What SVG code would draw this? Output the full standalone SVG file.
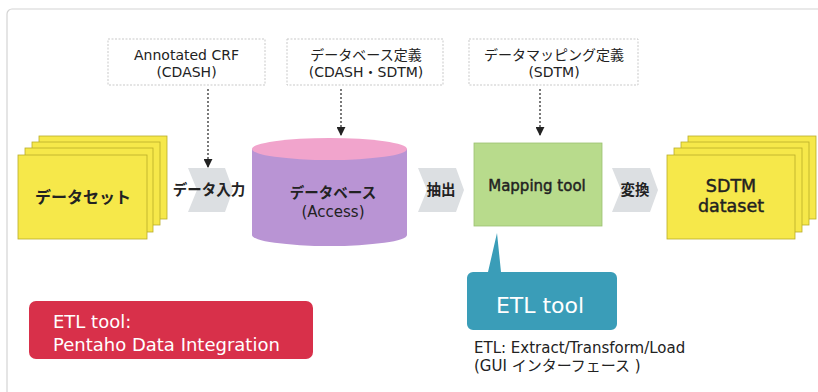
<svg xmlns="http://www.w3.org/2000/svg" width="818" height="392" viewBox="0 0 818 392">
<defs>
<style>
.lat{font-family:"DejaVu Sans","Noto Sans CJK JP",sans-serif;}
.jp{font-family:"Noto Sans CJK JP","DejaVu Sans",sans-serif;}
.note{fill:#fff;stroke:#c9c9c9;stroke-width:1;stroke-dasharray:2 1.5;}
.sheet{fill:#f6e84a;stroke:#b9ad2a;stroke-width:0.8;}
.chev{fill:#dcdfe2;}
.dot{stroke:#222;stroke-width:1.2;stroke-dasharray:2 2;fill:none;}
.t{fill:#222;}
.med{stroke:#222;stroke-width:0.45;}
</style>
<marker id="ah" viewBox="0 0 10 10" refX="9" refY="5" markerWidth="9" markerHeight="9" markerUnits="userSpaceOnUse" orient="auto">
<path d="M0,0 L10,5 L0,10 z" fill="#222"/>
</marker>
</defs>
<rect x="0" y="0" width="818" height="392" fill="#fff"/>
<rect x="7" y="9" width="830" height="410" rx="5" fill="none" stroke="#d4d4d4" stroke-width="1.2"/>

<g id="note-crf">
<rect class="note" x="108" y="39" width="157" height="46"/>
<text class="lat t" x="186.5" y="60" font-size="14" text-anchor="middle">Annotated CRF</text>
<text class="lat t" x="186.5" y="77" font-size="14" text-anchor="middle">(CDASH)</text>
</g>
<g id="note-db">
<rect class="note" x="287" y="39" width="156" height="46"/>
<text class="jp t" x="366" y="60" font-size="14" text-anchor="middle">データベース定義</text>
<text class="lat t" x="366" y="77" font-size="14" text-anchor="middle">(CDASH・SDTM)</text>
</g>
<g id="note-map">
<rect class="note" x="469" y="39" width="169" height="46"/>
<text class="jp t" x="554" y="60" font-size="14" text-anchor="middle">データマッピング定義</text>
<text class="lat t" x="554" y="77" font-size="14" text-anchor="middle">(SDTM)</text>
</g>

<g id="connectors">
<line class="dot" x1="208" y1="89" x2="208" y2="167" marker-end="url(#ah)"/>
<line class="dot" x1="341" y1="89" x2="341" y2="135" marker-end="url(#ah)"/>
<line class="dot" x1="540" y1="89" x2="540" y2="135" marker-end="url(#ah)"/>
<path class="chev" d="M188,168 L225,168 L233,190 L225,212 L188,212 L197,190 Z"/>
<path class="chev" d="M418,168 L456,168 L464,190 L456,212 L418,212 L427,190 Z"/>
<path class="chev" d="M612,168 L650,168 L658,190 L650,212 L612,212 L621,190 Z"/>
<text class="jp t" x="209" y="195" font-size="14.5" font-weight="bold" text-anchor="middle">データ入力</text>
<text class="jp t" x="441" y="195" font-size="14.5" font-weight="bold" text-anchor="middle">抽出</text>
<text class="jp t" x="635" y="195" font-size="14.5" font-weight="bold" text-anchor="middle">変換</text>
</g>

<g id="dataset">
<rect class="sheet" x="39" y="136" width="128" height="83"/>
<rect class="sheet" x="32" y="142" width="128" height="83"/>
<rect class="sheet" x="25" y="148" width="128" height="84"/>
<rect class="sheet" x="18" y="155" width="129" height="84"/>
<text class="jp t" x="83" y="203" font-size="16" font-weight="bold" text-anchor="middle">データセット</text>
</g>

<g id="database">
<path d="M252,149 L252,235 A77.5,11 0 0 0 407,235 L407,149 Z" fill="#b994d4"/>
<ellipse cx="329.5" cy="149" rx="77.5" ry="11" fill="#f1a4cc"/>
<text class="jp t" x="333" y="198" font-size="14.5" font-weight="bold" text-anchor="middle">データベース</text>
<text class="lat t" x="333" y="217" font-size="15" text-anchor="middle">(Access)</text>
</g>

<g id="mapping">
<rect x="474" y="143" width="128" height="83" fill="#b8db8c" stroke="#9cc070" stroke-width="0.8"/>
<text class="lat t med" x="537" y="191" font-size="15" text-anchor="middle">Mapping tool</text>
</g>

<g id="sdtm">
<rect class="sheet" x="688" y="136" width="128" height="83"/>
<rect class="sheet" x="681" y="142" width="128" height="83"/>
<rect class="sheet" x="674" y="148" width="128" height="84"/>
<rect class="sheet" x="667" y="155" width="128" height="84"/>
<text class="lat t med" x="731" y="192" font-size="17.5" text-anchor="middle">SDTM</text>
<text class="lat t med" x="731" y="212" font-size="17.5" text-anchor="middle">dataset</text>
</g>

<g id="etl-callout">
<path d="M473,272 L488,272 L497,233 L501,272 L611,272 A6,6 0 0 1 617,278 L617,324 A6,6 0 0 1 611,330 L473,330 A6,6 0 0 1 467,324 L467,278 A6,6 0 0 1 473,272 Z" fill="#3a9db8"/>
<text class="lat" x="540" y="313" font-size="22" fill="#fff" text-anchor="middle">ETL tool</text>
</g>

<g id="etl-note">
<text class="lat t" x="474" y="353" font-size="15">ETL: Extract/Transform/Load</text>
<text class="lat t" x="474" y="371" font-size="15">(GUI インターフェース )</text>
</g>

<g id="pentaho">
<rect x="29" y="301" width="284" height="58" rx="7" fill="#d8304a"/>
<text class="lat" x="53" y="328" font-size="18" fill="#fff">ETL tool:</text>
<text class="lat" x="53" y="351" font-size="18" fill="#fff">Pentaho Data Integration</text>
</g>
</svg>
